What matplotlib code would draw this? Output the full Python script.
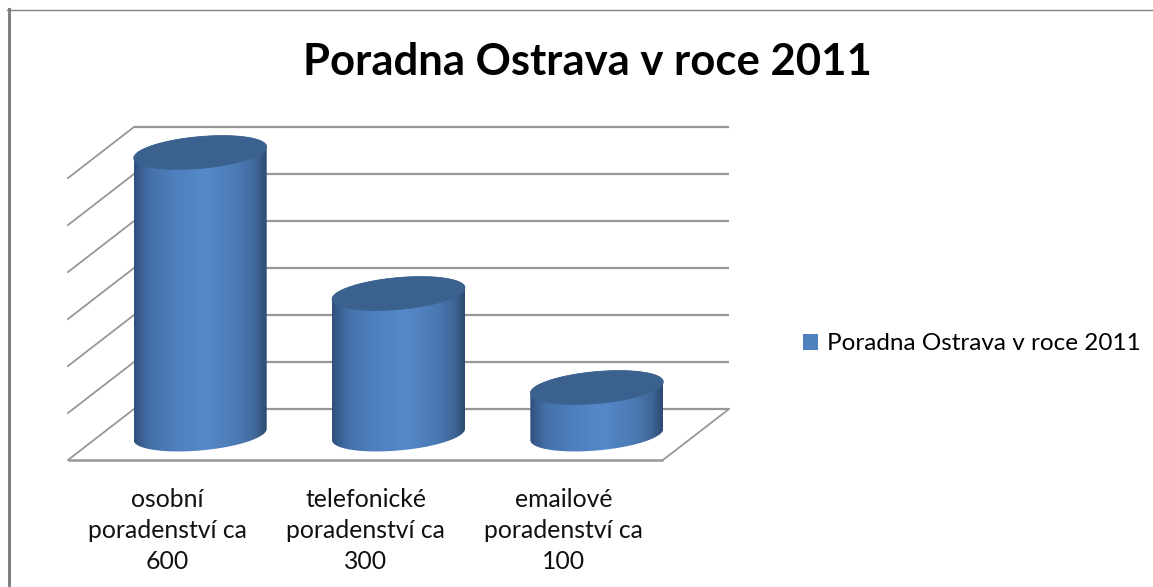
import numpy as np
import matplotlib
matplotlib.use("Agg")
import matplotlib.pyplot as plt
from matplotlib.colors import LinearSegmentedColormap
from matplotlib.lines import Line2D
from matplotlib.patches import PathPatch, Polygon, Patch
from matplotlib.path import Path

title = "Poradna Ostrava v roce 2011"
series_name = "Poradna Ostrava v roce 2011"
categories = ["osobní\nporadenství ca\n600", "telefonické\nporadenství ca\n300", "emailové\nporadenství ca\n100"]
values = [600, 300, 100]
grid_values = [0, 100, 200, 300, 400, 500, 600]

W, H = 1153, 587
FONT = "Lato"
fig = plt.figure(figsize=(W / 100, H / 100), dpi=100, facecolor="white")
ax = fig.add_axes([68 / W, 1 - 460 / H, (663 - 68) / W, (460 - 178) / H])
ax.set_xlim(0, 3)
ax.set_ylim(0, 600)
ax.patch.set_visible(False)
for s in ax.spines.values():
    s.set_visible(False)

# 3D depth in data units
DX = 66 / (595 / 3)
DY = 51 / (282 / 600)
GRID = "#979797"

for v in grid_values:
    ax.plot([DX, 3 + DX], [v + DY, v + DY], color=GRID, lw=1.6, clip_on=False, zorder=1, solid_capstyle="butt")
    ax.plot([0, DX], [v, v + DY], color=GRID, lw=1.3, clip_on=False, zorder=1)
ax.plot([0, 3], [0, 0], color=GRID, lw=1.8, clip_on=False, zorder=1, solid_capstyle="butt")
ax.plot([3, 3 + DX], [0, DY], color=GRID, lw=1.3, clip_on=False, zorder=1)

cmap = LinearSegmentedColormap.from_list("cyl", [
    (0.0, "#2f4f7c"), (0.05, "#3a5f92"), (0.12, "#4470a8"), (0.30, "#4d7fbd"), (0.55, "#5589c9"),
    (0.80, "#4a78b2"), (0.92, "#3f6797"), (1.0, "#2c4a70")])
grad = np.linspace(0, 1, 256)[None, :]

A = 66.5 / (595 / 3)
B = 34
TILT = 12


def ell(cx, cy, t):
    return cx + A * np.cos(t), cy + B * np.sin(t) + TILT * np.cos(t)


for i, v in enumerate(values):
    cx = i + 0.5 + DX / 2
    base = DY / 2
    top = v + DY / 2
    bx, by = ell(cx, base, np.linspace(np.pi, 2 * np.pi, 60))
    tx, ty = ell(cx, top, np.linspace(0, np.pi, 60))
    body = np.column_stack([np.r_[bx, tx], np.r_[by, ty]])
    patch = PathPatch(Path(np.r_[body, body[:1]], closed=True), transform=ax.transData,
                      facecolor="none", edgecolor="none")
    ax.add_patch(patch)
    im = ax.imshow(grad, cmap=cmap, extent=[cx - A, cx + A, base - B - TILT - 5, top + B + TILT + 5],
                   aspect="auto", interpolation="bilinear", zorder=2)
    im.set_clip_path(patch)
    im.set_clip_box(fig.bbox)
    ex, ey = ell(cx, top, np.linspace(0, 2 * np.pi, 120))
    ax.add_patch(Polygon(np.column_stack([ex, ey]), closed=True, facecolor="#3b628f",
                         edgecolor="#3b628f", lw=0.5, zorder=3, clip_on=False))

ax.set_xlim(0, 3)
ax.set_ylim(0, 600)
ax.set_xticks([0.5, 1.5, 2.5])
ax.set_xticklabels(categories, family=FONT, fontsize=17.8, color="#111111", linespacing=1.42)
ax.tick_params(axis="x", length=0, pad=20)
ax.set_yticks([])

fig.text(587 / W, 1 - 62 / H, title, ha="center", va="center", family=FONT, fontweight="bold",
         fontsize=31.4, color="black")

leg = fig.legend(handles=[Patch(facecolor="#4f81bd", label=series_name)], loc="center left",
                 bbox_to_anchor=(803 / W, 1 - 344 / H), frameon=False, handlelength=0.62,
                 handleheight=0.62, handletextpad=0.37, borderpad=0, borderaxespad=0,
                 prop={"family": FONT, "size": 17.5})

# Outer frame (left and top only)
fig.add_artist(Line2D([8.5 / W, 8.5 / W], [0, 1 - 9 / H], color="#808080", lw=2.2, transform=fig.transFigure))
fig.add_artist(Line2D([7 / W, 1], [1 - 9.5 / H, 1 - 9.5 / H], color="#808080", lw=1.0, transform=fig.transFigure))

fig.savefig("out.png", dpi=100)
